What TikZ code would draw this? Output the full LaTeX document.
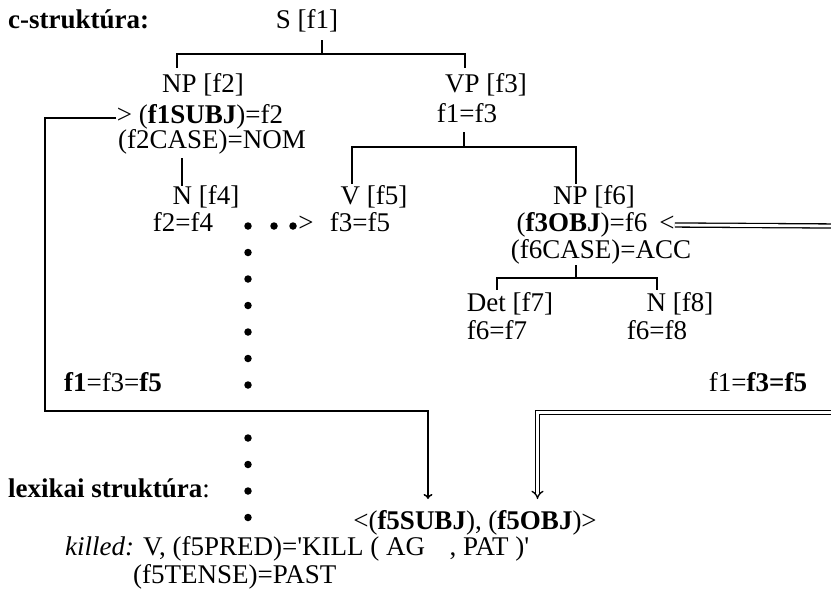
\documentclass[tikz,border=0pt]{standalone}
\usepackage{fontspec}
\setmainfont{Liberation Serif}
\usetikzlibrary{arrows.meta}
\begin{document}
\begin{tikzpicture}[x=1pt,y=-1pt,
  lbl/.style={inner sep=0pt, font=\fontsize{27}{28}\selectfont, text height=17pt, text depth=5pt},
  tree/.style={line width=1.5pt},
  dotm/.style={circle, fill=black, inner sep=0pt, minimum size=7.5pt},
  dbl/.style={double, double distance=2.8pt, line width=1.3pt},
]
\useasboundingbox (0,0) rectangle (831,595);
% labels
\node[lbl,anchor=west] (cs) at (8,22) {\textbf{c-struktúra:}};
\node[lbl] (s1) at (307,22) {S [f1]};
\node[lbl] (np2) at (203,86) {NP [f2]};
\node[lbl] (subj) at (200,117) {> (\textbf{f1SUBJ})=f2};
\node[lbl] (case2) at (212,142) {(f2CASE)=NOM};
\node[lbl] (n4) at (206,198) {N [f4]};
\node[lbl] (f24) at (183,225) {f2=f4};
\node[lbl] (vp3) at (486,86) {VP [f3]};
\node[lbl] (f13) at (467,116) {f1=f3};
\node[lbl] (v5) at (374,198) {V [f5]};
\node[lbl] (f35) at (360,225) {f3=f5};
\node[lbl] (np6) at (594,198) {NP [f6]};
\node[lbl] (obj) at (582,225) {(\textbf{f3OBJ})=f6};
\node[lbl] (lt) at (667,225) {<};
\node[lbl] (case6) at (601,252) {(f6CASE)=ACC};
\node[lbl] (det7) at (510,305) {Det [f7]};
\node[lbl] (n8) at (680,305) {N [f8]};
\node[lbl] (f67) at (497,333) {f6=f7};
\node[lbl] (f68) at (657,333) {f6=f8};
\node[lbl] (eqL) at (113,385) {\textbf{f1}=f3=\textbf{f5}};
\node[lbl] (eqR) at (758,385) {f1=\textbf{f3=f5}};
\node[lbl,anchor=west] (lex) at (8,491) {\textbf{lexikai struktúra}:};
\node[lbl] (args) at (475,523) {<(\textbf{f5SUBJ}), (\textbf{f5OBJ})>};
\node[lbl,anchor=west] (killed) at (65,549) {\textit{killed:} V, (f5PRED)=\textquotesingle KILL ( AG\hspace{0.9em}, PAT )\textquotesingle};
\node[lbl,anchor=west] (tense) at (133,577) {(f5TENSE)=PAST};
% tree coordinates
\coordinate (sa) at (322,40);
\coordinate (sb) at (322,54);
\coordinate (npa) at (177,68);
\coordinate (vpa) at (465,68);
\coordinate (ca) at (182,158);
\coordinate (cb) at (182,186);
\coordinate (fa) at (464,132);
\coordinate (fb) at (464,147);
\coordinate (va) at (352,184);
\coordinate (nb) at (576,184);
\coordinate (ga) at (576,265);
\coordinate (gb) at (576,278);
\coordinate (da) at (497,290);
\coordinate (db) at (657,290);
\draw[tree] (sa) -- (sb) -| (npa);
\draw[tree] (sb) -| (vpa);
\draw[tree] (ca) -- (cb);
\draw[tree] (fa) -- (fb) -| (va);
\draw[tree] (fb) -| (nb);
\draw[tree] (ga) -- (gb) -| (da);
\draw[tree] (gb) -| (db);
% dots
\foreach \k in {0,...,6,8,9,10,11}
  \node[dotm] (vd\k) at (248,{226+26.5*\k}) {};
\node[dotm] (hd1) at (274,226) {};
\node[dotm] (hd2) at (293,226) {};
\node[lbl] (gt) at (306,225) {>};
% arrows
\coordinate (la) at (116,118);
\coordinate (lb) at (45,118);
\coordinate (lc) at (45,411);
\coordinate (ld) at (428,411);
\coordinate (le) at (428,499);
\draw[tree,-{To[length=5pt,width=9pt]}] (la) -- (lb) -- (lc) -- (ld) -- (le);
\coordinate (ra) at (835,412.5);
\coordinate (rb) at (537.5,412.5);
\coordinate (rc) at (537.5,499);
\draw[dbl,-{Implies[length=7pt,width=14pt]}] (ra) -- (rb) -- (rc);
\coordinate (oa) at (835,226);
\draw[dbl] (oa) -- (lt.east);
\end{tikzpicture}
\end{document}
